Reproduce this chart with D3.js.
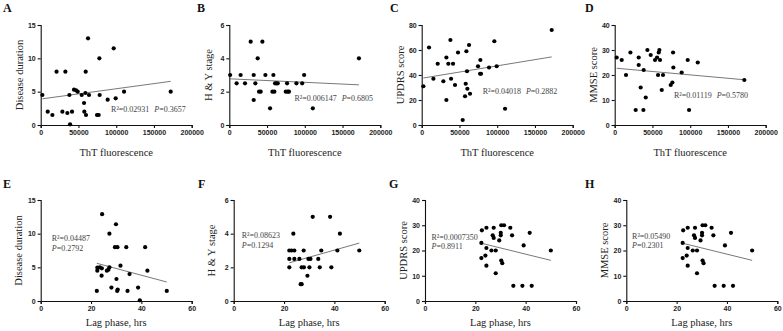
<!DOCTYPE html>
<html>
<head>
<meta charset="utf-8">
<script src="https://cdn.jsdelivr.net/npm/d3@7"></script>
<style>
  body { margin: 0; background: #fff; }
  svg { display: block; }
  .tick text { font-family: "Liberation Sans", Arial, sans-serif; font-weight: bold; font-size: 7px; fill: #222; }
  .axis-title { font-family: "Liberation Serif", "Times New Roman", serif; font-size: 10.5px; fill: #222; }
  .stat { font-family: "Liberation Serif", "Times New Roman", serif; font-size: 8px; fill: #444; }
  .letter { font-family: "Liberation Serif", "Times New Roman", serif; font-weight: bold; font-size: 12px; fill: #111; }
</style>
</head>
<body>
<div id="chart"></div>
<script>
// ThT fluorescence panels (top row)
const aX = [2200, 9300, 15500, 21000, 28700, 32700, 35300, 38000, 38900, 41500, 44100, 46800, 49000, 54300, 57400, 57800, 59200, 59600, 60000, 62700, 64000, 74600, 76800, 77700, 78100, 88700, 96700, 99300, 110400, 172200];
const aY = [4.5, 2.0, 1.5, 8.0, 2.0, 8.0, 1.8, 4.5, 0.1, 2.0, 5.3, 5.2, 5.0, 4.5, 3.3, 2.0, 4.8, 8.0, 1.5, 13.0, 4.5, 1.5, 1.5, 10.0, 4.5, 3.8, 11.5, 4.0, 5.0, 5.0];

const bX = [1100, 9700, 15000, 20800, 28300, 32300, 32300, 34500, 37600, 39400, 41600, 43800, 47800, 54000, 57100, 58400, 59700, 60600, 62400, 64200, 74800, 76500, 77400, 79000, 88900, 96500, 99100, 110600, 171700];
const bY = [3, 2.5, 3, 2.5, 5, 3, 1.5, 2.5, 4, 2, 2, 5, 3, 1, 2, 3, 2, 2.5, 2.5, 2.5, 2, 2.5, 2, 2, 2.5, 2.5, 3, 1, 4];

const cX = [2200, 9700, 15500, 21200, 28700, 32700, 32700, 35300, 38000, 38900, 41500, 44100, 48100, 54300, 57400, 58300, 59200, 60000, 60500, 62700, 64000, 74600, 77300, 77700, 78600, 89200, 96200, 99300, 110400, 172200];
const cY = [31, 62, 37, 49, 35, 20, 54, 49, 68, 37, 49, 32, 58, 4, 23, 33, 59, 43, 29, 64, 25, 47, 41, 52, 41, 46, 67, 47, 13, 76];

const dX = [2600, 9300, 15000, 20800, 27800, 31800, 31800, 34400, 38000, 38400, 41100, 43300, 47700, 53400, 56100, 57400, 58300, 59200, 60000, 62300, 64000, 74200, 76400, 77300, 77700, 88700, 96700, 98500, 110000, 171700];
const dY = [27, 26, 20, 29, 6, 24, 27, 15, 6, 22, 11, 30, 28, 26, 27, 20, 29, 30, 26, 14, 20, 16, 17, 29, 23, 21, 26, 6, 25, 18];

// Lag phase panels (bottom row)
const eX = [24.4, 29.9, 27.3, 29.5, 30.5, 34.0, 41.5, 22.5, 23.5, 24.3, 22.5, 26.3, 26.9, 27.3, 24.2, 31.7, 35.3, 42.4, 30.1, 28.1, 30.6, 30.4, 34.5, 38.7, 22.3, 50.1, 39.4];
const eY = [12.9, 11.4, 10.0, 8.0, 8.0, 8.0, 8.0, 4.95, 5.0, 4.85, 4.5, 4.5, 4.65, 5.0, 3.76, 5.25, 4.0, 4.5, 3.27, 2.0, 1.7, 1.5, 1.5, 2.0, 1.5, 1.5, 0.1];

const fX = [22.1, 22.1, 22.1, 23.7, 23.0, 24.1, 24.1, 26.1, 26.6, 27.0, 27.0, 27.8, 27.9, 29.3, 29.7, 30.5, 30.1, 31.4, 33.6, 34.2, 34.8, 38.3, 38.8, 41.2, 42.2, 49.9];
const fY = [3, 2.5, 2, 4, 3, 3, 2.5, 2.5, 1, 1, 2, 3, 2, 1.5, 2.5, 2.5, 2, 5, 2.5, 2, 3, 5, 2, 3, 4, 3];

// G and H show the same point cloud in the source figure
const gX = [22.6, 24.4, 27.3, 30.3, 31.4, 33.9, 26.9, 27.3, 30.1, 30.1, 29.5, 34.6, 41.6, 22.4, 24.4, 26.4, 28.1, 39.2, 50.0, 22.4, 24.0, 30.3, 30.7, 24.4, 28.1, 35.1, 38.7, 42.4];
const gY = [28, 29, 29, 30, 30, 29, 26, 25, 27, 26, 24, 26, 27, 23, 21, 20, 20, 22, 20, 17, 18, 16, 15, 14, 11, 6, 6, 6];

// fitted lines: [x0, x1], [y0, y1]
const fitX = {
  A: [2200, 172200], B: [1100, 171700], C: [2200, 172200], D: [2600, 171700],
  E: [22.3, 50.1], F: [22.1, 49.9], G: [22.3, 50.0], H: [22.3, 50.0]
};
const fitY = {
  A: [3.93, 6.55], B: [2.77, 2.41], C: [37.6, 54.5], D: [22.7, 18.1],
  E: [5.6, 2.82], F: [2.27, 3.44], G: [22.9, 16.1], H: [22.9, 16.1]
};

const r2Labels = ["0.02931", "0.006147", "0.04018", "0.01119", "0.04487", "0.08623", "0.0007350", "0.05490"];
const pLabels = ["0.3657", "0.6805", "0.2882", "0.5780", "0.2792", "0.1294", "0.8911", "0.2301"];

const yTitles = ["Disease duration", "H & Y stage", "UPDRS score", "MMSE score"];
const xTitles = ["ThT fluorescence", "Lag phase, hrs"];

const thtTicks = [0, 50000, 100000, 150000, 200000];
const lagTicks = [0, 20, 40, 60];
const yTickSets = [[0, 5, 10, 15], [0, 2, 4, 6], [0, 20, 40, 60, 80], [0, 10, 20, 30, 40],
                   [0, 5, 10, 15], [0, 2, 4, 6], [0, 10, 20, 30, 40], [0, 10, 20, 30, 40]];

const W = 783, H = 331;
const svg = d3.select('#chart').append('svg').attr('width', W).attr('height', H);

// panel frames (pixel layout)
const lefts = [40.7, 229.3, 421.7, 614.7, 40.7, 233.7, 425, 626.3];
const plotW = 151;
const rows = [{ top: 25, bottom: 125 }, { top: 200, bottom: 301 }];
const letterPos = [[3, 12], [197, 12], [390, 12], [585, 12], [3, 188], [198, 188], [389, 188], [585, 188]];

const panels = [
  { id: 'A', xs: aX, ys: aY, row: 0, title: 0, two: false, lx: 93200, ly: 1.9 },
  { id: 'B', xs: bX, ys: bY, row: 0, title: 1, two: false, lx: 86300, ly: 1.45 },
  { id: 'C', xs: cX, ys: cY, row: 0, title: 2, two: false, lx: 80800, ly: 24.7 },
  { id: 'D', xs: dX, ys: dY, row: 0, title: 3, two: false, lx: 78600, ly: 10.8 },
  { id: 'E', xs: eX, ys: eY, row: 1, title: 0, two: true, lx: 4.4, ly: 8.9 },
  { id: 'F', xs: fX, ys: fY, row: 1, title: 1, two: true, lx: 3.2, ly: 3.72 },
  { id: 'G', xs: gX, ys: gY, row: 1, title: 2, two: true, lx: 2.6, ly: 24.2 },
  { id: 'H', xs: gX, ys: gY, row: 1, title: 3, two: true, lx: 2.3, ly: 24.7 }
];

panels.forEach((p, i) => {
  const row = rows[p.row];
  const x0 = lefts[i];
  const yTicks = yTickSets[i];
  const xTicks = p.row === 0 ? thtTicks : lagTicks;

  const x = d3.scaleLinear().domain([xTicks[0], xTicks[xTicks.length - 1]]).range([x0, x0 + plotW]);
  const y = d3.scaleLinear().domain([yTicks[0], yTicks[yTicks.length - 1]]).range([row.bottom, row.top]);

  const g = svg.append('g');

  // axes
  const xAxis = g.append('g')
    .attr('transform', `translate(0,${row.bottom})`)
    .call(d3.axisBottom(x).tickValues(xTicks).tickSize(3).tickPadding(2).tickFormat(d3.format('d')));
  const yAxis = g.append('g')
    .attr('transform', `translate(${x0},0)`)
    .call(d3.axisLeft(y).tickValues(yTicks).tickSize(3).tickPadding(2).tickFormat(d3.format('d')));
  [xAxis, yAxis].forEach(ax => {
    ax.select('.domain').attr('stroke', '#111').attr('stroke-width', 1.1);
    ax.selectAll('.tick line').attr('stroke', '#111').attr('stroke-width', 1.1);
  });

  // fit line
  const fx = fitX[p.id], fy = fitY[p.id];
  g.append('line')
    .attr('x1', x(fx[0])).attr('y1', y(fy[0]))
    .attr('x2', x(fx[1])).attr('y2', y(fy[1]))
    .attr('stroke', '#555').attr('stroke-width', 0.8);

  // points
  g.selectAll('circle')
    .data(p.xs.map((v, k) => [v, p.ys[k]]))
    .join('circle')
    .attr('cx', d => x(d[0]))
    .attr('cy', d => y(d[1]))
    .attr('r', 2.1)
    .attr('fill', '#000');

  // stats text
  const t = g.append('text').attr('class', 'stat')
    .attr('x', x(p.lx)).attr('y', y(p.ly));
  t.append('tspan').text('R²=' + r2Labels[i]);
  if (p.two) {
    const t2 = g.append('text').attr('class', 'stat')
      .attr('x', x(p.lx)).attr('y', y(p.ly) + 9.5);
    t2.append('tspan').attr('font-style', 'italic').text('P');
    t2.append('tspan').text('=' + pLabels[i]);
  } else {
    t.append('tspan').attr('dx', 5).attr('font-style', 'italic').text('P');
    t.append('tspan').text('=' + pLabels[i]);
  }

  // axis titles
  g.append('text').attr('class', 'axis-title')
    .attr('text-anchor', 'middle')
    .attr('x', x0 + plotW / 2)
    .attr('y', row.bottom + (p.row === 0 ? 31 : 25))
    .text(xTitles[p.row]);

  const ytx = x0 - (p.row === 0 ? 21 : 22);
  g.append('text').attr('class', 'axis-title')
    .attr('text-anchor', 'middle')
    .attr('transform', `translate(${ytx},${(row.top + row.bottom) / 2}) rotate(-90)`)
    .attr('dy', '0.35em')
    .text(yTitles[p.title]);

  // panel letter
  svg.append('text').attr('class', 'letter')
    .attr('x', letterPos[i][0]).attr('y', letterPos[i][1])
    .text(p.id);
});
</script>
</body>
</html>
